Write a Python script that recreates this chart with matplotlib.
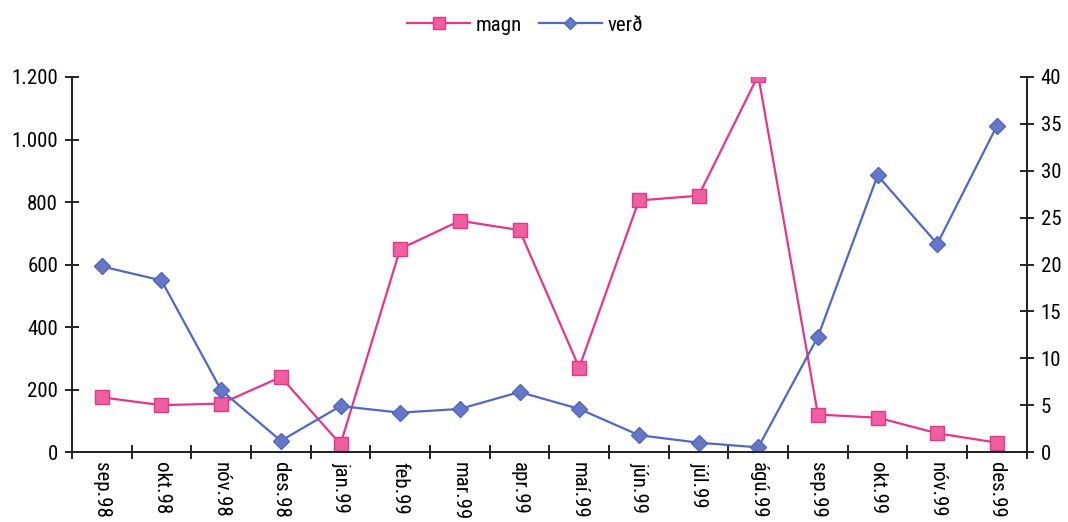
import matplotlib
matplotlib.use("Agg")
import matplotlib.pyplot as plt
from matplotlib.ticker import FuncFormatter
from matplotlib import font_manager
import numpy as np

months = ["sep.98", "okt.98", "nóv.98", "des.98", "jan.99", "feb.99", "mar.99", "apr.99",
          "maí.99", "jún.99", "júl.99", "ágú.99", "sep.99", "okt.99", "nóv.99", "des.99"]
magn = [175, 150, 155, 240, 25, 650, 740, 710, 270, 805, 820, 1205, 120, 110, 60, 30]
verd = [19.8, 18.3, 6.6, 1.2, 4.9, 4.2, 4.6, 6.4, 4.6, 1.8, 1.0, 0.5, 12.3, 29.5, 22.2, 34.8]
left_ticks = [0, 200, 400, 600, 800, 1000, 1200]
right_ticks = [0, 5, 10, 15, 20, 25, 30, 35, 40]

avail = {f.name for f in font_manager.fontManager.ttflist}
cands = ['Liberation Sans Narrow', 'Roboto Condensed', 'DejaVu Sans Condensed', 'Roboto', 'DejaVu Sans']
fams = [c for c in cands if c in avail]
plt.rcParams['font.family'] = fams[:1] + ['DejaVu Sans']
narrow = fams[0] in ('Liberation Sans Narrow', 'Roboto Condensed', 'DejaVu Sans Condensed')
fs = 15 if narrow else 12.5

pink = "#E8358A"
blue = "#5068C2"

fig = plt.figure(figsize=(10.68, 5.22), dpi=100)
ax = fig.add_axes([0.0674, 0.134, 0.894, 0.7185])
ax2 = ax.twinx()

x = np.arange(len(months))
l1, = ax.plot(x, magn, color=pink, lw=1.6, marker="s", markersize=10,
              markerfacecolor="#EE5FA0", markeredgecolor=pink, label="magn")
l2, = ax2.plot(x, verd, color=blue, lw=1.6, marker="D", markersize=8,
               markerfacecolor="#6677C6", markeredgecolor=blue, label="verð")

ax.set_xlim(-0.5, len(months) - 0.5)
ax.set_ylim(0, 1200)
ax2.set_ylim(0, 40)
ax.set_yticks(left_ticks)
ax.yaxis.set_major_formatter(FuncFormatter(lambda v, p: f"{int(v):,}".replace(",", ".")))
ax2.set_yticks(right_ticks)

ax.set_xticks(np.arange(-0.5, len(months), 1.0))
ax.set_xticklabels([])
ax.set_xticks(x, minor=True)
ax.set_xticklabels(months, minor=True, rotation=-90, fontsize=fs)
ax.tick_params(axis="x", which="minor", length=0, pad=7)
ax.tick_params(axis="x", which="major", direction="inout", length=10, width=1.2)
ax.tick_params(axis="y", direction="inout", length=10, width=1.2, labelsize=fs, pad=5)
ax2.tick_params(axis="y", direction="inout", length=10, width=1.2, labelsize=fs, pad=5)

for a in (ax, ax2):
    a.spines["top"].set_visible(False)
    for s in ("left", "right", "bottom"):
        a.spines[s].set_linewidth(1.3)
        a.spines[s].set_color("#222222")

fig.legend(handles=[l1, l2], loc="center", bbox_to_anchor=(0.492, 0.952), ncol=2,
           frameon=False, fontsize=fs, handlelength=3, columnspacing=0.8, handletextpad=0.3,
           markerscale=0.8)

fig.savefig("out.png", dpi=100)
